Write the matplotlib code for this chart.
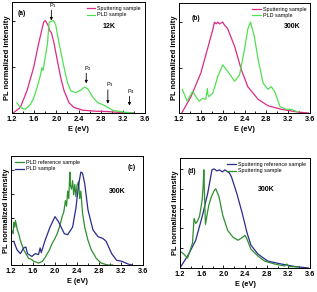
import matplotlib
matplotlib.use("Agg")
import matplotlib.pyplot as plt
from matplotlib.ticker import MultipleLocator

plt.rcParams['font.family'] = ['Liberation Sans', 'DejaVu Sans']

# ---- panel (a), 12K ----
a_sput_E = [1.22, 1.35, 1.47, 1.59, 1.68, 1.77, 1.80, 1.85, 1.88, 1.91, 1.96, 2.02, 2.08, 2.14,
            2.23, 2.32, 2.48, 2.70, 2.93, 3.20, 3.40]
a_sput_I = [0.0, 0.06, 0.24, 0.49, 0.75, 0.98, 1.0, 0.95, 0.89, 0.87, 0.75, 0.56, 0.38, 0.24,
            0.11, 0.06, 0.03, 0.02, 0.015, 0.005, 0.0]
a_pld_E = [1.29, 1.35, 1.44, 1.53, 1.59, 1.65, 1.71, 1.74, 1.76, 1.84, 1.87, 1.90, 1.95, 1.99,
           2.05, 2.14, 2.20, 2.26, 2.35, 2.45, 2.51, 2.57, 2.66, 2.75, 2.84, 2.93, 3.03, 3.12,
           3.20, 3.30, 3.38]
a_pld_I = [0.11, 0.06, 0.04, 0.09, 0.16, 0.27, 0.40, 0.49, 0.46, 0.75, 0.98, 0.99, 1.0, 0.95,
           0.75, 0.49, 0.33, 0.24, 0.22, 0.25, 0.28, 0.26, 0.17, 0.11, 0.09, 0.06, 0.025, 0.02,
           0.01, 0.005, 0.0]
a_peaks_E = [1.91, 2.54, 2.93, 3.32]
a_peaks_top = [1.11, 0.43, 0.25, 0.18]
a_peaks_tip = [1.0, 0.32, 0.10, 0.08]
a_peak_names = ['P$_1$', 'P$_2$', 'P$_3$', 'P$_4$']

# ---- panel (b), 300K ----
b_sput_E = [1.25, 1.42, 1.60, 1.72, 1.82, 1.85, 1.88, 1.91, 1.94, 1.97, 2.00, 2.03, 2.09, 2.22,
            2.34, 2.46, 2.65, 2.83, 3.08, 3.38, 3.57]
b_sput_I = [0.0, 0.18, 0.44, 0.70, 0.92, 1.0, 0.98, 1.0, 0.98, 0.99, 1.0, 0.97, 0.93, 0.73,
            0.48, 0.29, 0.15, 0.08, 0.04, 0.01, 0.0]
b_pld_E = [1.26, 1.35, 1.45, 1.51, 1.57, 1.63, 1.69, 1.72, 1.73, 1.75, 1.82, 1.91, 2.00, 2.09,
           2.22, 2.31, 2.40, 2.46, 2.51, 2.58, 2.65, 2.74, 2.83, 2.89, 2.95, 3.05, 3.17, 3.26,
           3.38]
b_pld_I = [0.26, 0.13, 0.24, 0.18, 0.13, 0.16, 0.15, 0.27, 0.20, 0.18, 0.22, 0.40, 0.53, 0.46,
           0.35, 0.42, 0.70, 0.92, 1.0, 0.84, 0.59, 0.33, 0.26, 0.29, 0.24, 0.07, 0.04, 0.04,
           0.01]

# ---- panel (c), 300K ----
c_ref_E = [1.20, 1.22, 1.24, 1.25, 1.27, 1.28, 1.30, 1.31, 1.34, 1.37, 1.40, 1.43, 1.47, 1.52,
           1.57, 1.61, 1.66, 1.70, 1.74, 1.77, 1.82, 1.86, 1.90, 1.95, 1.99, 2.04, 2.08, 2.13,
           2.16, 2.19, 2.21, 2.23, 2.25, 2.27, 2.28, 2.30, 2.32, 2.34, 2.36, 2.38, 2.40, 2.43,
           2.45, 2.47, 2.50, 2.54, 2.60, 2.66, 2.75, 2.84, 2.96, 3.05]
c_ref_I = [0.30, 0.36, 0.33, 0.45, 0.40, 0.47, 0.42, 0.38, 0.33, 0.26, 0.21, 0.16, 0.12, 0.07,
           0.06, 0.04, 0.03, 0.02, 0.03, 0.04, 0.08, 0.12, 0.16, 0.23, 0.27, 0.33, 0.40, 0.51,
           0.56, 0.68, 0.62, 0.78, 0.70, 0.98, 0.84, 0.80, 0.89, 0.74, 0.85, 0.72, 0.84, 0.88,
           0.70, 0.78, 0.55, 0.40, 0.26, 0.16, 0.07, 0.02, 0.0, 0.0]
c_pld_E = [1.25, 1.31, 1.37, 1.43, 1.47, 1.50, 1.58, 1.64, 1.70, 1.73, 1.75, 1.82, 1.91, 2.00,
           2.06, 2.17, 2.23, 2.32, 2.38, 2.43, 2.47, 2.50, 2.54, 2.60, 2.69, 2.78, 2.87, 2.93,
           3.03, 3.12, 3.21, 3.33, 3.40]
c_pld_I = [0.25, 0.16, 0.12, 0.18, 0.19, 0.12, 0.09, 0.12, 0.11, 0.18, 0.13, 0.26, 0.40, 0.51,
           0.46, 0.33, 0.32, 0.40, 0.60, 0.85, 0.98, 0.97, 0.86, 0.58, 0.37, 0.30, 0.28, 0.25,
           0.12, 0.05, 0.04, 0.01, 0.0]

# ---- panel (d), 300K ----
d_ref_E = [1.20, 1.36, 1.49, 1.61, 1.71, 1.79, 1.83, 1.88, 1.93, 1.98, 2.03, 2.08, 2.11, 2.15,
           2.25, 2.35, 2.44, 2.51, 2.64, 2.82, 3.07, 3.32, 3.57]
d_ref_I = [0.0, 0.14, 0.28, 0.52, 0.75, 0.99, 1.0, 0.98, 0.99, 0.97, 0.99, 0.97, 0.96, 0.92,
           0.75, 0.55, 0.35, 0.23, 0.14, 0.07, 0.04, 0.015, 0.0]
d_sput_E = [1.20, 1.27, 1.34, 1.43, 1.46, 1.49, 1.52, 1.56, 1.61, 1.63, 1.64, 1.66, 1.67, 1.73,
            1.78, 1.83, 1.86, 1.89, 1.92, 1.99, 2.08, 2.18, 2.27, 2.36, 2.40, 2.43, 2.51, 2.64,
            2.76, 2.95, 3.13, 3.17, 3.21, 3.38]
d_sput_I = [0.17, 0.14, 0.10, 0.25, 0.50, 0.45, 0.47, 0.52, 0.69, 0.85, 0.99, 0.60, 0.44, 0.63,
            0.72, 0.78, 0.80, 0.76, 0.72, 0.53, 0.38, 0.31, 0.28, 0.31, 0.33, 0.30, 0.19, 0.12,
            0.07, 0.04, 0.02, 0.04, 0.015, 0.01]

magenta = '#dc2a85'
lgreen = '#52e052'
dgreen = '#2f8f2f'
navy = '#2b2b8c'

fig = plt.figure(figsize=(3.17, 2.92), dpi=100)
ax_a = fig.add_axes([12 / 317, 1 - 113 / 292, 133 / 317, 111 / 292])
ax_b = fig.add_axes([179 / 317, 1 - 113 / 292, 131 / 317, 110 / 292])
ax_c = fig.add_axes([11 / 317, 1 - 265 / 292, 132 / 317, 109 / 292])
ax_d = fig.add_axes([180 / 317, 1 - 268 / 292, 130 / 317, 110 / 292])


def style(ax, ymax, ystep, letter, lx, ly):
    ax.set_xlim(1.2, 3.6)
    ax.set_ylim(0, ymax)
    ax.xaxis.set_major_locator(MultipleLocator(0.4))
    ax.xaxis.set_minor_locator(MultipleLocator(0.2))
    ax.yaxis.set_major_locator(MultipleLocator(ystep))
    ax.tick_params(axis='both', which='both', direction='in', length=2, width=0.6,
                   labelsize=5.3, pad=2)
    ax.tick_params(axis='x', which='minor', length=1.5)
    ax.tick_params(axis='y', labelleft=False)
    for lab in ax.get_xticklabels():
        lab.set_fontweight('bold')
    for sp in ax.spines.values():
        sp.set_linewidth(0.7)
    ax.set_xlabel('E (eV)', fontsize=5.3, fontweight='bold', labelpad=2)
    ax.set_ylabel('PL normalized intensity', fontsize=5.4, fontweight='bold', labelpad=1)
    ax.text(lx, ly, letter, transform=ax.transAxes, fontsize=4.8, fontweight='bold',
            ha='left', va='center')


# (a)
ax_a.plot(a_sput_E, a_sput_I, color=magenta, lw=0.9, label='Sputtering sample')
ax_a.plot(a_pld_E, a_pld_I, color=lgreen, lw=0.9, label='PLD sample')
for e, top, tip, name in zip(a_peaks_E, a_peaks_top, a_peaks_tip, a_peak_names):
    ax_a.annotate('', xy=(e, tip), xytext=(e, top),
                  arrowprops=dict(arrowstyle='-|>', color='black', lw=0.6,
                                  mutation_scale=4, shrinkA=0, shrinkB=0))
    ax_a.text(e + 0.03, top + 0.005, name, fontsize=4, ha='center', va='bottom')
style(ax_a, 1.2, 0.5, '(a)', 0.04, 0.9)
ax_a.text(0.68, 0.77, '12K', transform=ax_a.transAxes, fontsize=5, fontweight='bold')
ax_a.legend(loc='upper right', bbox_to_anchor=(1.0, 1.0), fontsize=3.9, frameon=False,
            handlelength=1.6, handletextpad=0.3, labelspacing=0.2, borderaxespad=0.4)

# (b)
ax_b.plot(b_sput_E, b_sput_I, color=magenta, lw=0.9, label='Sputtering sample')
ax_b.plot(b_pld_E, b_pld_I, color=lgreen, lw=0.9, label='PLD sample')
style(ax_b, 1.21, 0.5, '(b)', 0.1, 0.86)
ax_b.text(0.8, 0.77, '300K', transform=ax_b.transAxes, fontsize=5, fontweight='bold')
ax_b.legend(loc='upper right', bbox_to_anchor=(1.0, 1.0), fontsize=3.9, frameon=False,
            handlelength=1.6, handletextpad=0.3, labelspacing=0.2, borderaxespad=0.3)

# (c)
ax_c.plot(c_ref_E, c_ref_I, color=dgreen, lw=0.9, label='PLD reference sample')
ax_c.plot(c_pld_E, c_pld_I, color=navy, lw=0.9, label='PLD sample')
style(ax_c, 1.15, 0.25, '(c)', 0.88, 0.89)
ax_c.text(0.74, 0.66, '300K', transform=ax_c.transAxes, fontsize=5, fontweight='bold')
ax_c.legend(loc='upper left', bbox_to_anchor=(0.0, 1.0), fontsize=3.9, frameon=False,
            handlelength=1.6, handletextpad=0.3, labelspacing=0.2, borderaxespad=0.4)

# (d)
ax_d.plot(d_ref_E, d_ref_I, color=navy, lw=0.9, label='Sputtering reference sample')
ax_d.plot(d_sput_E, d_sput_I, color=dgreen, lw=0.9, label='Sputtering sample')
style(ax_d, 1.11, 0.2, '(d)', 0.06, 0.88)
ax_d.text(0.6, 0.7, '300K', transform=ax_d.transAxes, fontsize=5, fontweight='bold')
ax_d.legend(loc='upper right', bbox_to_anchor=(1.0, 1.0), fontsize=3.9, frameon=False,
            handlelength=1.6, handletextpad=0.3, labelspacing=0.2, borderaxespad=0.4)

fig.savefig('out.png', dpi=100)
